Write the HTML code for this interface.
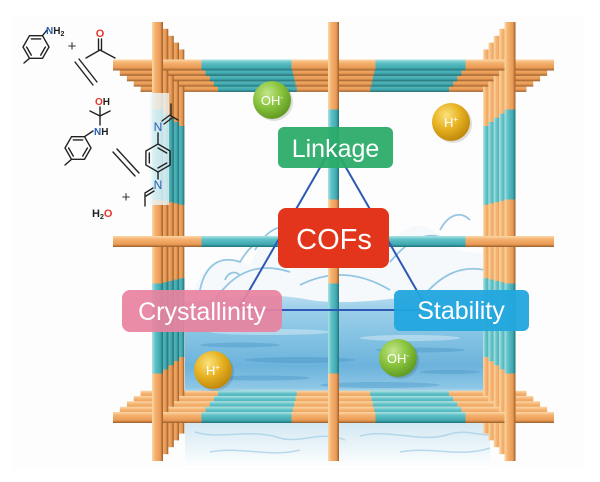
<!DOCTYPE html>
<html><head><meta charset="utf-8"><style>
html,body{margin:0;padding:0;background:#fff;}
svg{display:block;}
text{font-family:"Liberation Sans",Arial,sans-serif;}
</style></head><body>
<svg width="600" height="482" viewBox="0 0 600 482" xmlns="http://www.w3.org/2000/svg">
<defs>
 <linearGradient id="oh" x1="0" y1="0" x2="0" y2="1">
  <stop offset="0" stop-color="#fcd8a8"/><stop offset=".3" stop-color="#f4b16e"/><stop offset=".75" stop-color="#e99b55"/><stop offset="1" stop-color="#9a5d2a"/>
 </linearGradient>
 <linearGradient id="ov" x1="0" y1="0" x2="1" y2="0">
  <stop offset="0" stop-color="#fcd8a8"/><stop offset=".3" stop-color="#f4b16e"/><stop offset=".75" stop-color="#e99b55"/><stop offset="1" stop-color="#9a5d2a"/>
 </linearGradient>
 <linearGradient id="th" x1="0" y1="0" x2="0" y2="1">
  <stop offset="0" stop-color="#abe3e5"/><stop offset=".3" stop-color="#5ec1c7"/><stop offset=".75" stop-color="#41a9b0"/><stop offset="1" stop-color="#1d7278"/>
 </linearGradient>
 <linearGradient id="tv" x1="0" y1="0" x2="1" y2="0">
  <stop offset="0" stop-color="#abe3e5"/><stop offset=".3" stop-color="#5ec1c7"/><stop offset=".75" stop-color="#41a9b0"/><stop offset="1" stop-color="#1d7278"/>
 </linearGradient>
 <linearGradient id="wg" x1="0" y1="0" x2="0" y2="1">
  <stop offset="0" stop-color="#c4e3f2"/><stop offset=".15" stop-color="#9fd1ea"/><stop offset=".4" stop-color="#86c4e4"/><stop offset=".7" stop-color="#6cb3dc"/><stop offset=".9" stop-color="#8cc6e5"/><stop offset="1" stop-color="#d8edf7"/>
 </linearGradient>
 <linearGradient id="wr" x1="0" y1="0" x2="0" y2="1">
  <stop offset="0" stop-color="#cfe6f2"/><stop offset="1" stop-color="#ffffff"/>
 </linearGradient>
 <radialGradient id="gy" cx=".38" cy=".32" r=".7">
  <stop offset="0" stop-color="#fbe27e"/><stop offset=".5" stop-color="#e8b424"/><stop offset="1" stop-color="#c0870a"/>
 </radialGradient>
 <radialGradient id="gg" cx=".38" cy=".32" r=".7">
  <stop offset="0" stop-color="#c2e68a"/><stop offset=".5" stop-color="#8cc540"/><stop offset="1" stop-color="#5f9a22"/>
 </radialGradient>
 <clipPath id="wc"><rect x="163" y="150" width="342" height="262"/></clipPath>
 <g id="ring">
  <rect x="113" y="59.5" width="441" height="11" fill="url(#oh)"/>
  <rect x="201.5" y="59.5" width="90" height="11" fill="url(#th)"/>
  <rect x="375.5" y="59.5" width="90" height="11" fill="url(#th)"/>
  <rect x="113" y="412" width="441" height="11" fill="url(#oh)"/>
  <rect x="201.5" y="412" width="90" height="11" fill="url(#th)"/>
  <rect x="375.5" y="412" width="90" height="11" fill="url(#th)"/>
  <rect x="152" y="22" width="11" height="439" fill="url(#ov)"/>
  <rect x="152" y="109.5" width="11" height="90" fill="url(#tv)"/>
  <rect x="152" y="283.5" width="11" height="90" fill="url(#tv)"/>
  <rect x="504.5" y="22" width="11" height="439" fill="url(#ov)"/>
  <rect x="504.5" y="109.5" width="11" height="90" fill="url(#tv)"/>
  <rect x="504.5" y="283.5" width="11" height="90" fill="url(#tv)"/>
 </g>
</defs>

<rect x="12" y="15" width="572" height="455" fill="#fdfdfd"/>

<!-- water -->
<g clip-path="url(#wc)">
 <path d="M190,300 C200,262 228,250 250,266 C268,222 300,214 322,236 C340,252 360,240 382,250 C402,228 424,214 442,240 C460,256 475,250 490,256 L490,400 L185,400 Z" fill="#e6f2f8" opacity=".35"/>
 <path d="M185,302 C230,296 270,292 310,300 C350,306 400,298 440,292 C460,289 475,293 490,296 L490,398 L185,398 Z" fill="url(#wg)"/>
 <g fill="#3f8fc2" opacity=".35">
  <ellipse cx="240" cy="345" rx="40" ry="2.5"/>
  <ellipse cx="300" cy="360" rx="55" ry="3"/>
  <ellipse cx="420" cy="350" rx="45" ry="2.5"/>
  <ellipse cx="260" cy="378" rx="50" ry="2.5"/>
  <ellipse cx="380" cy="385" rx="60" ry="3"/>
  <ellipse cx="450" cy="372" rx="30" ry="2"/>
  <ellipse cx="220" cy="392" rx="30" ry="2"/>
 </g>
 <g fill="#ffffff" opacity=".35">
  <ellipse cx="270" cy="332" rx="60" ry="3"/>
  <ellipse cx="410" cy="338" rx="50" ry="3"/>
 </g>
 <g fill="none" stroke="#7db9dc" stroke-width="1.8" opacity=".8">
  <path d="M200,290 C205,265 220,255 240,262 C250,245 262,235 275,245"/>
  <path d="M215,300 C235,270 260,262 290,272"/>
  <path d="M255,250 C265,232 280,222 295,228"/>
  <path d="M390,262 C410,238 430,228 450,242 C465,250 478,245 485,236"/>
  <path d="M420,300 C440,275 460,265 485,270"/>
  <path d="M300,285 C330,270 360,272 390,290"/>
  <path d="M440,230 C448,215 460,210 470,220"/>
  <path d="M225,280 C228,272 236,270 240,276"/>
  <path d="M290,262 C300,255 310,258 312,266"/>
 </g>
</g>
<rect x="185" y="423" width="305" height="45" fill="url(#wr)" opacity=".9"/>
<g fill="none" stroke="#a9d2e8" stroke-width="1.5" opacity=".8">
 <path d="M195,432 C220,440 250,428 280,438 C300,444 320,430 345,440"/>
 <path d="M360,436 C390,428 420,444 450,434 C470,428 485,440 500,432"/>
 <path d="M210,452 C240,446 270,458 300,450"/>
 <path d="M400,452 C430,446 460,458 490,448"/>
</g>

<!-- frame layers -->
<use href="#ring" transform="translate(333.5 241.5) scale(0.875) translate(-333.5 -241.5)"/>
<use href="#ring" transform="translate(333.5 241.5) scale(0.906) translate(-333.5 -241.5)"/>
<use href="#ring" transform="translate(333.5 241.5) scale(0.937) translate(-333.5 -241.5)"/>
<use href="#ring" transform="translate(333.5 241.5) scale(0.969) translate(-333.5 -241.5)"/>
<use href="#ring"/>

<!-- middle cross -->
<rect x="113" y="236" width="441" height="11" fill="url(#oh)"/>
<rect x="201.5" y="236" width="90" height="11" fill="url(#th)"/>
<rect x="375.5" y="236" width="90" height="11" fill="url(#th)"/>
<rect x="328" y="22" width="11" height="439" fill="url(#ov)"/>
<rect x="328" y="109.5" width="11" height="90" fill="url(#tv)"/>
<rect x="328" y="283.5" width="11" height="90" fill="url(#tv)"/>

<!-- chem overlay -->
<rect x="150" y="93" width="19" height="112" fill="#eaf5f9" opacity=".82"/>

<!-- chemistry -->
<g stroke="#222" stroke-width="1.4" fill="none" stroke-linecap="round">
 <polygon points="49,47 42.5,58.3 29.5,58.3 23,47 29.5,35.7 42.5,35.7"/>
 <line x1="45.4" y1="47" x2="40.7" y2="55.1"/>
 <line x1="31.3" y1="55.1" x2="26.6" y2="47"/>
 <line x1="31.3" y1="38.9" x2="40.7" y2="38.9"/>
 <line x1="42.5" y1="35.7" x2="47" y2="30"/>
 <line x1="29.5" y1="58.3" x2="24" y2="63"/>
 <line x1="98.5" y1="39" x2="98.5" y2="50"/>
 <line x1="101.5" y1="39" x2="101.5" y2="50"/>
 <line x1="100" y1="50" x2="86" y2="58"/>
 <line x1="100" y1="50" x2="115" y2="58"/>
 <line x1="75" y1="62" x2="93" y2="85"/>
 <line x1="79" y1="59" x2="97" y2="82"/>
 <polygon points="91,148 84.5,159.3 71.5,159.3 65,148 71.5,136.7 84.5,136.7"/>
 <line x1="87.4" y1="148" x2="82.7" y2="156.1"/>
 <line x1="73.3" y1="156.1" x2="68.6" y2="148"/>
 <line x1="73.3" y1="139.9" x2="82.7" y2="139.9"/>
 <line x1="84.5" y1="136.7" x2="93" y2="131"/>
 <line x1="71.5" y1="159.3" x2="65" y2="165"/>
 <line x1="100" y1="107" x2="100" y2="125"/>
 <line x1="100" y1="116" x2="90" y2="111"/>
 <line x1="100" y1="116" x2="110" y2="111"/>
 <line x1="113" y1="152" x2="135" y2="176"/>
 <line x1="117" y1="149" x2="139" y2="173"/>
 <polygon points="158,144 170.1,151 170.1,165 158,172 145.9,165 145.9,151"/>
 <line x1="158" y1="148" x2="166.7" y2="153"/>
 <line x1="166.7" y1="163" x2="158" y2="168"/>
 <line x1="149.3" y1="163" x2="149.3" y2="153"/>
 <line x1="158" y1="133" x2="158" y2="144"/>
 <line x1="162" y1="121" x2="170" y2="115"/>
 <line x1="164" y1="124" x2="172" y2="118"/>
 <line x1="171" y1="116" x2="171" y2="104"/>
 <line x1="171" y1="116" x2="178" y2="120"/>
 <line x1="158" y1="172" x2="158" y2="179"/>
 <line x1="153" y1="188" x2="145" y2="193"/>
 <line x1="154" y1="191" x2="146" y2="196"/>
 <line x1="145" y1="194" x2="145" y2="206"/>
</g>
<g font-weight="bold" font-size="10">
 <text x="46" y="34"><tspan fill="#2a5db0">N</tspan><tspan fill="#222">H</tspan><tspan fill="#222" font-size="7" dy="2">2</tspan></text>
 <text x="100" y="37" fill="#e8362a" text-anchor="middle" font-size="11">O</text>
 <text x="95" y="105"><tspan fill="#e8362a">O</tspan><tspan fill="#222">H</tspan></text>
 <text x="94" y="135"><tspan fill="#2a5db0">N</tspan><tspan fill="#222">H</tspan></text>
 <text x="158" y="131" fill="#2a5db0" text-anchor="middle" font-size="12" font-weight="normal">N</text>
 <text x="158" y="189" fill="#2a5db0" text-anchor="middle" font-size="12" font-weight="normal">N</text>
 <text x="92" y="217" font-size="11"><tspan fill="#222">H</tspan><tspan fill="#222" font-size="7" dy="2">2</tspan><tspan fill="#e8362a" dy="-2">O</tspan></text>
</g>
<text x="72" y="51" font-size="15" fill="#333" text-anchor="middle">+</text>
<text x="126" y="202" font-size="15" fill="#333" text-anchor="middle">+</text>

<!-- triangle lines -->
<polygon points="333,145 238,310 428,310" fill="none" stroke="#2d58b3" stroke-width="2"/>

<!-- balls -->
<g>
 <circle cx="274" cy="102" r="19" fill="#000" opacity=".12"/>
 <circle cx="272" cy="100" r="19" fill="url(#gg)"/>
 <text x="272" y="105" font-size="13" fill="#fff" text-anchor="middle">OH<tspan font-size="8" dy="-5">-</tspan></text>
 <circle cx="453" cy="124" r="19" fill="#000" opacity=".12"/>
 <circle cx="451" cy="122" r="19" fill="url(#gy)"/>
 <text x="451" y="127" font-size="13" fill="#fff" text-anchor="middle">H<tspan font-size="8" dy="-5">+</tspan></text>
 <circle cx="215" cy="372" r="19" fill="#000" opacity=".12"/>
 <circle cx="213" cy="370" r="19" fill="url(#gy)"/>
 <text x="213" y="375" font-size="13" fill="#fff" text-anchor="middle">H<tspan font-size="8" dy="-5">+</tspan></text>
 <circle cx="400" cy="360" r="19" fill="#000" opacity=".12"/>
 <circle cx="398" cy="358" r="19" fill="url(#gg)"/>
 <text x="398" y="363" font-size="13" fill="#fff" text-anchor="middle">OH<tspan font-size="8" dy="-5">-</tspan></text>
</g>

<!-- labels -->
<rect x="278" y="127" width="115" height="41" rx="6" fill="#2aab69" opacity=".94"/>
<text x="335.5" y="157" font-size="25" fill="#fff" text-anchor="middle">Linkage</text>
<rect x="278" y="208" width="111" height="60" rx="8" fill="#e3351b"/>
<text x="334" y="249" font-size="29" fill="#fff" text-anchor="middle">COFs</text>
<rect x="122" y="290" width="160" height="42" rx="8" fill="#e8829f" opacity=".92"/>
<text x="202" y="320" font-size="25" fill="#fff" text-anchor="middle">Crystallinity</text>
<rect x="394" y="290" width="135" height="41" rx="6" fill="#22a7de" opacity=".95"/>
<text x="461" y="319" font-size="25" fill="#fff" text-anchor="middle">Stability</text>
</svg>
</body></html>
